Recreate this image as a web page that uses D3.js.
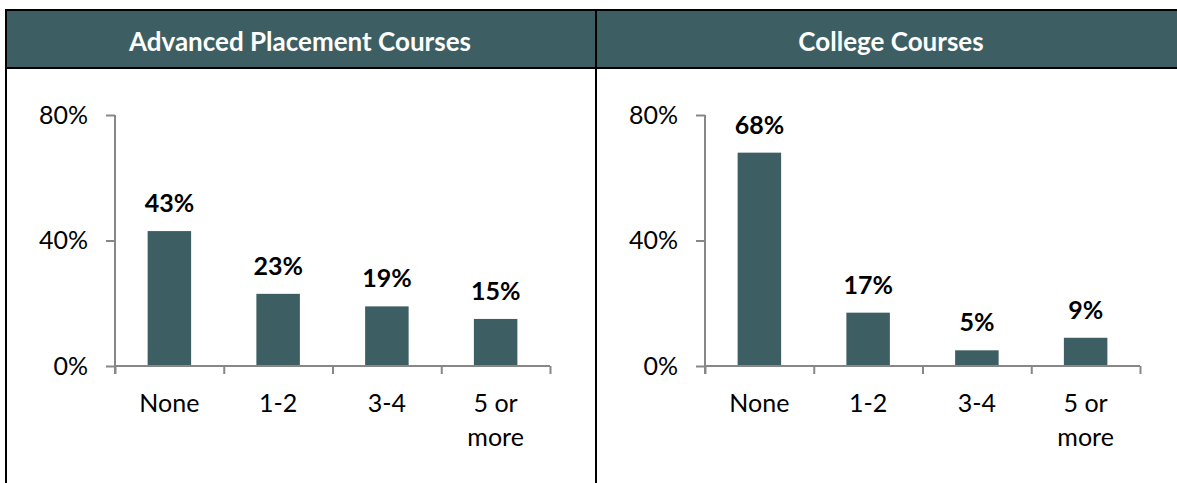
<!DOCTYPE html>
<html>
<head>
<meta charset="utf-8">
<script src="https://cdn.jsdelivr.net/npm/d3@7"></script>
<style>
  body { margin: 0; background: #fff; }
  text { font-family: Lato, "Noto Sans", sans-serif; }
</style>
</head>
<body>
<div id="container"></div>
<script>
const panelTitles = ["Advanced Placement Courses", "College Courses"];
const categories = ["None", "1-2", "3-4", "5 or more"];
const categoryLines = [["None"], ["1-2"], ["3-4"], ["5 or", "more"]];
const apValues = [43, 23, 19, 15];
const collegeValues = [68, 17, 5, 9];
const yTicks = [0, 40, 80];

const w = 1177;
const h = 483;
const teal = "#3d5e62";
const axisGrey = "#878787";

const svg = d3.select("#container")
              .append("svg")
              .attr("width", w)
              .attr("height", h);

// panel frames
const panels = [
  {axisX: 115, title: panelTitles[0], values: apValues, titleX: 300},
  {axisX: 705, title: panelTitles[1], values: collegeValues, titleX: 891}
];

svg.append("rect")
   .attr("x", 6).attr("y", 10)
   .attr("width", w - 6).attr("height", 58)
   .attr("fill", teal);

svg.append("line").attr("x1", 5).attr("x2", w).attr("y1", 10).attr("y2", 10)
   .attr("stroke", "#000").attr("stroke-width", 2);
svg.append("line").attr("x1", 5).attr("x2", w).attr("y1", 68).attr("y2", 68)
   .attr("stroke", "#000").attr("stroke-width", 2);
svg.append("line").attr("x1", 6).attr("x2", 6).attr("y1", 9).attr("y2", h)
   .attr("stroke", "#000").attr("stroke-width", 2);
svg.append("line").attr("x1", 596).attr("x2", 596).attr("y1", 9).attr("y2", h)
   .attr("stroke", "#000").attr("stroke-width", 2);

const yScale = d3.scaleLinear().domain([0, 80]).range([366, 115]);
const plotW = 435;

panels.forEach(function(p) {
  svg.append("text")
     .attr("x", p.titleX)
     .attr("y", 51)
     .attr("text-anchor", "middle")
     .attr("fill", "#fff")
     .attr("font-weight", "bold")
     .attr("font-size", "26px")
     .text(p.title);

  const g = svg.append("g").attr("transform", "translate(" + p.axisX + ",0)");

  const xBand = d3.scaleBand().domain(categories).range([0, plotW]);
  const xTicks = d3.scaleLinear().domain([0, 4]).range([0, plotW]);

  // bars
  g.selectAll("rect.bar")
   .data(p.values)
   .enter()
   .append("rect")
   .attr("class", "bar")
   .attr("x", (d, i) => xBand(categories[i]) + xBand.bandwidth() * 0.3)
   .attr("width", xBand.bandwidth() * 0.4)
   .attr("y", (d) => yScale(d))
   .attr("height", (d) => yScale(0) - yScale(d))
   .attr("fill", teal);

  // y axis
  const yAxis = d3.axisLeft(yScale)
                  .tickValues(yTicks)
                  .tickSize(9)
                  .tickSizeOuter(0)
                  .tickPadding(18)
                  .tickFormat((d) => d + "%");
  const ya = g.append("g").call(yAxis);
  ya.select(".domain").attr("stroke", axisGrey).attr("stroke-width", 2)
    .attr("d", "M0," + yScale(80) + "V374");
  ya.selectAll(".tick line").attr("stroke", axisGrey).attr("stroke-width", 2);
  ya.selectAll(".tick text")
    .attr("font-size", "25px")
    .attr("fill", "#000")
    .attr("font-family", "Lato, sans-serif");

  // x axis
  const xAxis = d3.axisBottom(xTicks)
                  .tickValues([0, 1, 2, 3, 4])
                  .tickSize(8)
                  .tickSizeOuter(0)
                  .tickFormat("");
  const xa = g.append("g").attr("transform", "translate(0," + yScale(0) + ")").call(xAxis);
  xa.select(".domain").attr("stroke", axisGrey).attr("stroke-width", 2)
    .attr("d", "M0,0H" + plotW);
  xa.selectAll(".tick line").attr("stroke", axisGrey).attr("stroke-width", 2);

  // category labels
  g.selectAll("text.cat")
   .data(categoryLines)
   .enter()
   .append("text")
   .attr("class", "cat")
   .attr("text-anchor", "middle")
   .attr("font-size", "25px")
   .attr("fill", "#000")
   .each(function(lines, i) {
     const t = d3.select(this);
     lines.forEach(function(line, j) {
       t.append("tspan")
        .attr("x", xBand(categories[i]) + xBand.bandwidth() / 2)
        .attr("y", 412 + j * 34)
        .text(line);
     });
   });

  // value labels
  g.selectAll("text.val")
   .data(p.values)
   .enter()
   .append("text")
   .attr("class", "val")
   .attr("text-anchor", "middle")
   .attr("font-size", "25px")
   .attr("font-weight", "bold")
   .attr("fill", "#000")
   .attr("x", (d, i) => xBand(categories[i]) + xBand.bandwidth() / 2)
   .attr("y", (d) => yScale(d) - 19)
   .text((d) => d + "%");
});
</script>
</body>
</html>
